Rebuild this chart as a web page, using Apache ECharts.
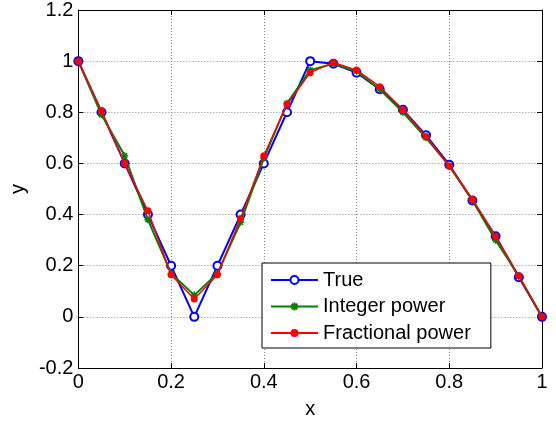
<!DOCTYPE html>
<html>
<head>
<meta charset="utf-8">
<script src="https://cdn.jsdelivr.net/npm/echarts@6/dist/echarts.min.js"></script>
<style>html,body{margin:0;padding:0;background:#fff}#c{width:556px;height:425px}</style>
</head>
<body>
<div id="c"></div>
<script>
const xs = [0, 0.05, 0.1, 0.15, 0.2, 0.25, 0.3, 0.35, 0.4, 0.45, 0.5, 0.55, 0.6, 0.65, 0.7, 0.75, 0.8, 0.85, 0.9, 0.95, 1];
const trueY = [1, 0.8, 0.6, 0.4, 0.2, 0, 0.2, 0.4, 0.6, 0.8, 1.0, 0.99, 0.955, 0.89, 0.81, 0.71, 0.595, 0.455, 0.315, 0.155, 0];
const intY = [1, 0.79, 0.63, 0.38, 0.17, 0.085, 0.17, 0.37, 0.62, 0.835, 0.965, 0.99, 0.96, 0.89, 0.80, 0.70, 0.59, 0.455, 0.30, 0.16, 0];
const fracY = [1, 0.805, 0.6, 0.415, 0.165, 0.07, 0.165, 0.385, 0.63, 0.83, 0.955, 0.995, 0.965, 0.9, 0.81, 0.705, 0.59, 0.46, 0.315, 0.16, 0];
const seriesNames = ['True', 'Integer power', 'Fractional power'];

const FONT = "'Liberation Sans', Arial, sans-serif";
const FS = 20;
const asterisk = 'path://M0,-5L0,5M-5,0L5,0M-3.5,-3.5L3.5,3.5M-3.5,3.5L3.5,-3.5';
const pair = ys => xs.map((x, i) => [x, ys[i]]);

const chart = echarts.init(document.getElementById('c'), null, {renderer: 'canvas'});
const grid = {left: 76, right: 14, top: 7, bottom: 57};
const gridLine = {show: true, lineStyle: {color: '#888', type: [1, 2], width: 1}};
const axisLine = {show: true, onZero: false, lineStyle: {color: '#000', width: 1}};
const tick = {show: true, inside: true, length: 5, lineStyle: {color: '#000'}};
chart.setOption({
  animation: false,
  textStyle: {fontFamily: FONT},
  grid: grid,
  xAxis: [{
    type: 'value', min: 0, max: 1, interval: 0.2, position: 'bottom',
    name: 'x', nameLocation: 'middle', nameGap: 31,
    nameTextStyle: {fontSize: FS, color: '#000', fontFamily: FONT},
    axisLine: axisLine, axisTick: tick, splitLine: gridLine,
    axisLabel: {fontSize: FS, color: '#000', margin: 4, fontFamily: FONT}
  }, {
    type: 'value', min: 0, max: 1, interval: 0.2, position: 'top',
    axisLine: axisLine, axisTick: tick, splitLine: {show: false}, axisLabel: {show: false}
  }],
  yAxis: [{
    type: 'value', min: -0.2, max: 1.2, interval: 0.2, position: 'left',
    name: 'y', nameLocation: 'middle', nameGap: 50, nameRotate: 90,
    nameTextStyle: {fontSize: FS, color: '#000', fontFamily: FONT},
    axisLine: axisLine, axisTick: tick, splitLine: gridLine,
    axisLabel: {fontSize: FS, color: '#000', margin: 5, fontFamily: FONT}
  }, {
    type: 'value', min: -0.2, max: 1.2, interval: 0.2, position: 'right',
    axisLine: axisLine, axisTick: tick, splitLine: {show: false}, axisLabel: {show: false}
  }],
  legend: {
    orient: 'vertical', left: 262, top: 263,
    padding: [7, 20, 5, 8],
    itemWidth: 47, itemHeight: 10, itemGap: 6.5,
    backgroundColor: '#fff', borderColor: '#000', borderWidth: 1,
    textStyle: {fontSize: FS, color: '#000', fontFamily: FONT, lineHeight: 20},
    data: seriesNames
  },
  series: [{
    name: seriesNames[0], type: 'line', data: pair(trueY),
    symbol: 'circle', symbolSize: 8, showAllSymbol: true,
    lineStyle: {color: '#0000ff', width: 2},
    itemStyle: {color: '#fff', borderColor: '#0000ff', borderWidth: 2},
    z: 2
  }, {
    name: seriesNames[1], type: 'line', data: pair(intY),
    symbol: asterisk, symbolSize: 7, showAllSymbol: true,
    lineStyle: {color: '#008000', width: 2},
    itemStyle: {color: '#008000', borderColor: '#008000', borderWidth: 1.5},
    z: 3
  }, {
    name: seriesNames[2], type: 'line', data: pair(fracY),
    symbol: 'circle', symbolSize: 7, showAllSymbol: true,
    lineStyle: {color: '#ff0000', width: 1.5},
    itemStyle: {color: '#ff0000', borderColor: '#ff0000', borderWidth: 0},
    z: 4
  }]
});
</script>
</body>
</html>
